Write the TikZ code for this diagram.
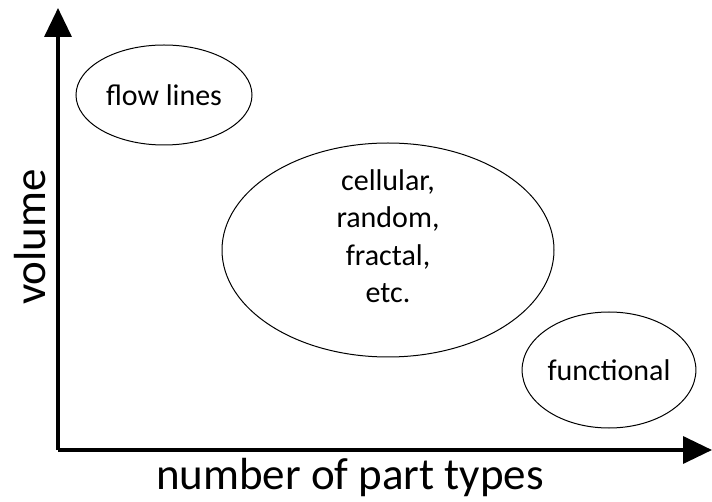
\documentclass[tikz,border=0pt]{standalone}
\usepackage{fontspec}
\setmainfont{Carlito}
\usetikzlibrary{arrows.meta}
\usetikzlibrary{shapes.geometric}

\begin{document}
\begin{tikzpicture}[x=1pt,y=-1pt,every node/.style={font=\fontsize{30}{37.5}\selectfont},region/.style={ellipse,draw,line width=1pt,inner sep=0pt},axis/.style={line width=3.5pt,-{Triangle[length=29pt,width=27pt]}}]
	
	\useasboundingbox (0,0) rectangle (712,502);
	
	\coordinate (origin) at (58,450);
	\coordinate (ytop) at (58,8);
	\coordinate (xend) at (712,450);
	\draw[axis] (origin) -- (ytop);
	\draw[axis] (origin) -- (xend);
	
	\node[region,minimum width=176pt,minimum height=100pt] (flow) at (164,95) {flow lines};
	\node[region,minimum width=332pt,minimum height=214pt] (cell) at (388,250) {};
	\node[align=center] (celltext) at (388,236) {cellular,\\random,\\fractal,\\etc.};
	\node[region,minimum width=166pt,minimum height=116pt] (func) at (609,370) {functional};
	
	\node[font=\fontsize{45}{54}\selectfont] (xlabel) at (350,478) {number of part types};
	\node[font=\fontsize{45}{54}\selectfont,rotate=90] (ylabel) at (30,237) {volume};
\end{tikzpicture}
\end{document}
